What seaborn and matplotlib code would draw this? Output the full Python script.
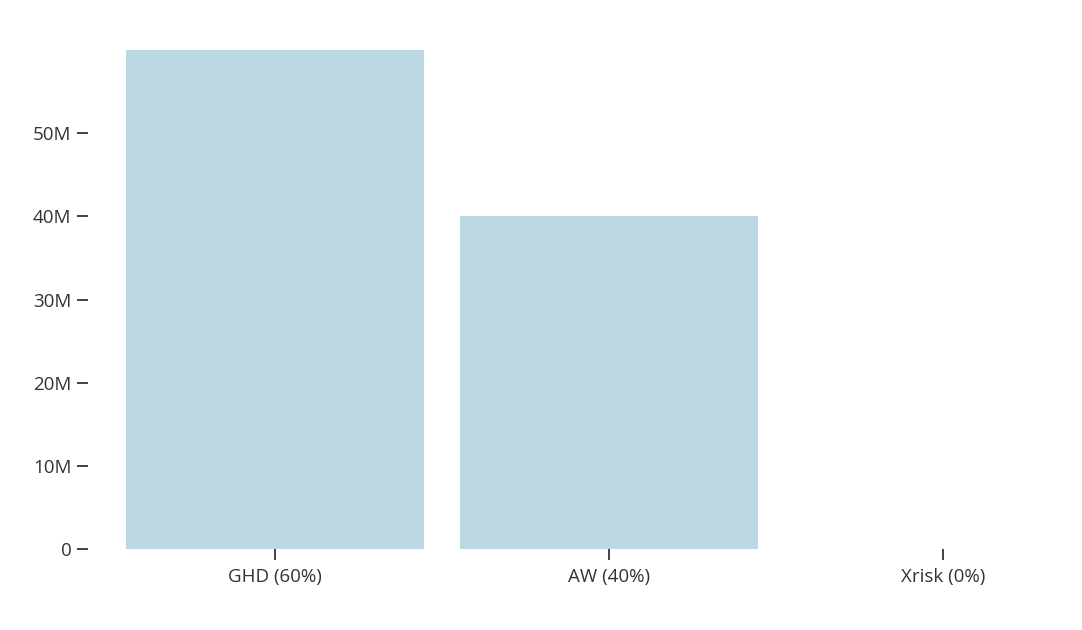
import matplotlib
matplotlib.use("Agg")
import matplotlib.pyplot as plt
from matplotlib.ticker import FuncFormatter
import seaborn as sns
import pandas as pd

# Data
categories = ["GHD (60%)", "AW (40%)", "Xrisk (0%)"]
amounts = [60e6, 40e6, 0]
y_ticks = [0, 10e6, 20e6, 30e6, 40e6, 50e6]

df = pd.DataFrame({"cause": categories, "amount": amounts})

sns.set_theme(style="white")
plt.rcParams["font.family"] = ["Open Sans", "DejaVu Sans"]

fig = plt.figure(figsize=(10.82, 6.3), dpi=100)
ax = fig.add_axes([0.0998, 0.1286, 0.8799, 0.792])

sns.barplot(data=df, x="cause", y="amount", color="#bbd8e3", saturation=1,
            width=0.892, linewidth=0, ax=ax)

ax.set_xlim(-0.5, 2.35)
ax.set_ylim(0, 60e6)
ax.set_yticks(y_ticks)
ax.yaxis.set_major_formatter(FuncFormatter(lambda v, p: "0" if v == 0 else f"{int(v / 1e6)}M"))

# no spines, only outward ticks
for s in ax.spines.values():
    s.set_visible(False)
ax.spines["left"].set_position(("outward", 14.4))

ax.tick_params(axis="y", left=True, length=8, width=1.3, color="#333333",
               pad=4, labelsize=13.5, labelcolor="#333333")
ax.tick_params(axis="x", bottom=True, length=8, width=1.3, color="#333333",
               pad=5.5, labelsize=13.5, labelcolor="#333333")
ax.set_xlabel("")
ax.set_ylabel("")

fig.savefig("out.png", dpi=100)
